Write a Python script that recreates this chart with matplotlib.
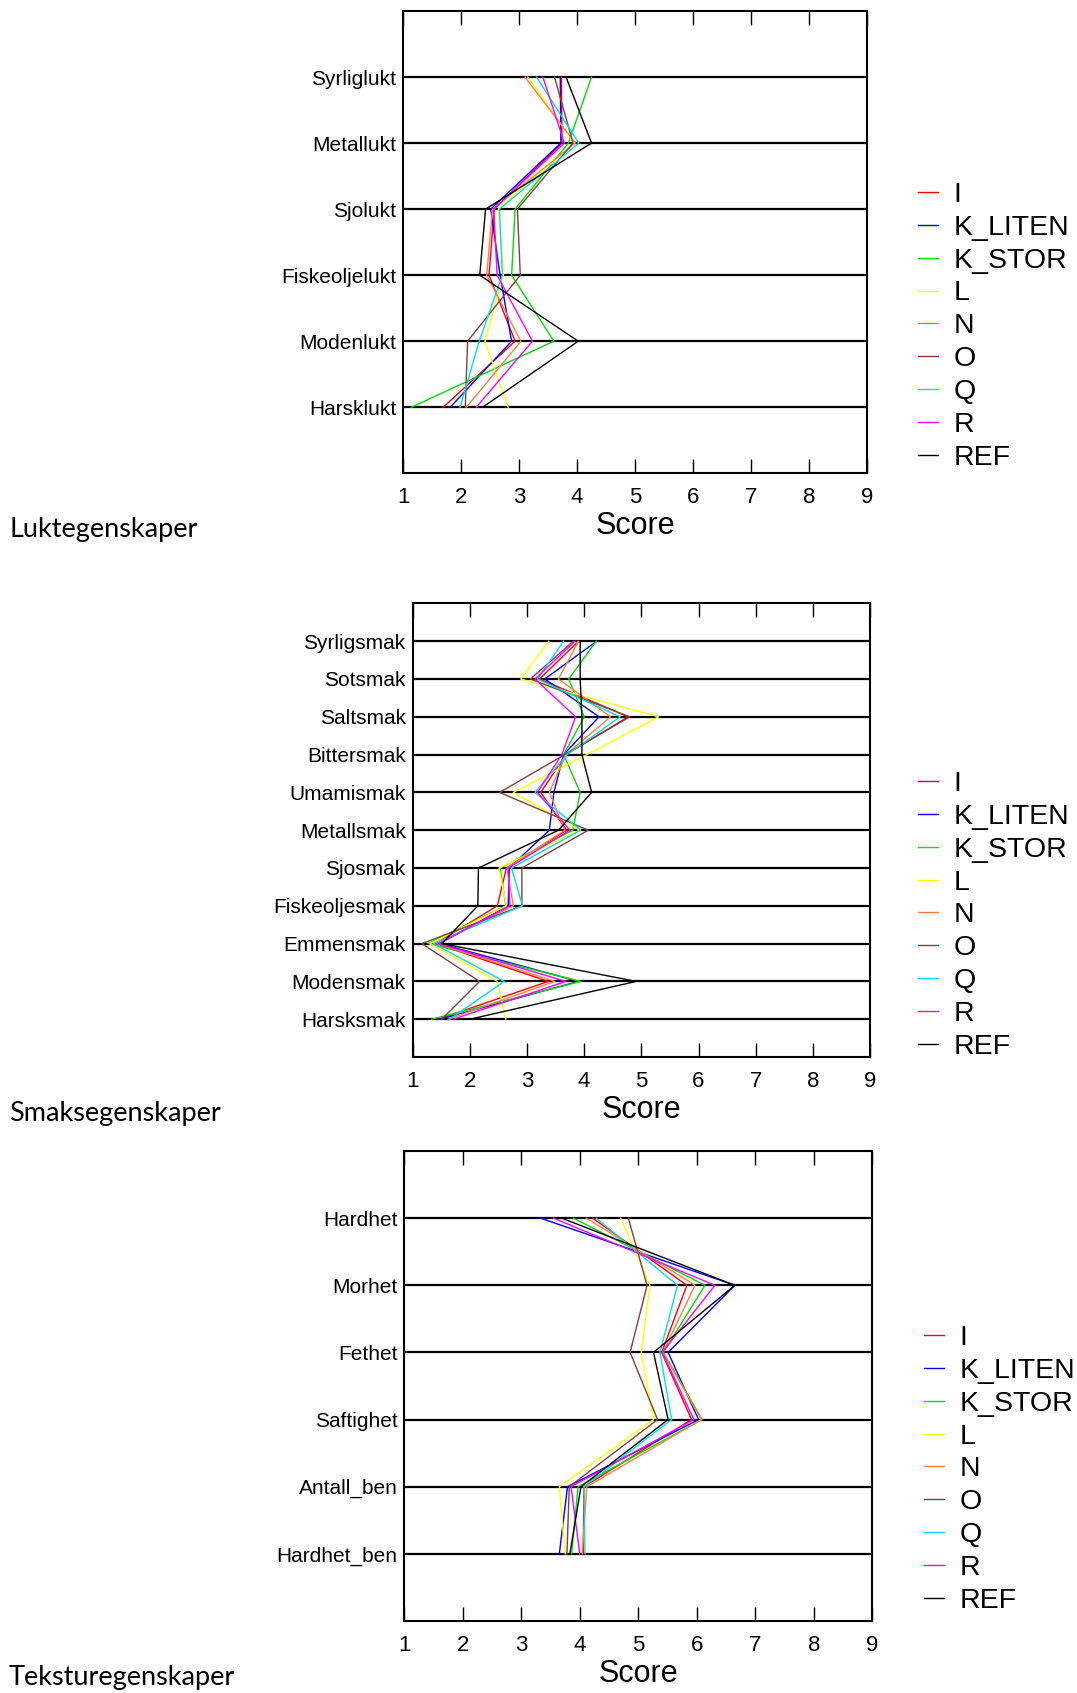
import matplotlib
matplotlib.use('Agg')
import matplotlib.pyplot as plt

products = ['I', 'K_LITEN', 'K_STOR', 'L', 'N', 'O', 'Q', 'R', 'REF']
colors = ['#ff0000', '#0000ff', '#00dd00', '#ffff00', '#ff8040',
          '#804040', '#00e0e0', '#ff00ff', '#000000']

lukt_cats = ['Syrliglukt', 'Metallukt', 'Sjolukt', 'Fiskeoljelukt',
             'Modenlukt', 'Harsklukt']
lukt_values = [
    [3.73, 3.74, 2.57, 2.48, 2.93, 1.69],   # I
    [3.71, 3.72, 2.51, 2.67, 2.87, 1.81],   # K_LITEN
    [4.25, 3.85, 2.93, 2.87, 3.60, 1.14],   # K_STOR
    [3.15, 3.95, 2.64, 2.73, 2.41, 2.81],   # L
    [3.10, 3.97, 2.54, 2.44, 3.03, 2.09],   # N
    [3.61, 3.93, 2.97, 3.02, 2.11, 2.07],   # O
    [3.30, 4.03, 2.66, 2.71, 2.31, 1.98],   # Q
    [3.41, 3.78, 2.56, 2.62, 3.23, 2.26],   # R
    [3.81, 4.25, 2.42, 2.32, 4.02, 2.37],   # REF
]

smak_cats = ['Syrligsmak', 'Sotsmak', 'Saltsmak', 'Bittersmak', 'Umamismak',
             'Metallsmak', 'Sjosmak', 'Fiskeoljesmak', 'Emmensmak',
             'Modensmak', 'Harsksmak']
smak_values = [
    [3.90, 3.22, 4.77, 3.68, 3.24, 3.69, 2.64, 2.48, 1.40, 3.37, 1.45],
    [4.22, 3.31, 4.26, 3.64, 3.47, 3.39, 2.69, 2.67, 1.47, 3.90, 1.48],
    [4.21, 3.73, 4.00, 3.64, 3.93, 3.80, 2.53, 2.63, 1.27, 3.94, 1.33],
    [3.38, 2.89, 5.30, 4.05, 2.76, 3.92, 2.51, 2.64, 1.30, 2.48, 2.63],
    [3.90, 3.55, 4.46, 3.68, 3.39, 3.66, 2.65, 2.76, 1.43, 3.49, 1.62],
    [3.81, 3.06, 4.80, 3.66, 2.52, 4.07, 2.91, 2.91, 1.16, 2.17, 1.51],
    [3.64, 3.18, 4.63, 3.70, 3.14, 3.94, 2.73, 2.92, 1.36, 2.60, 1.65],
    [3.84, 3.14, 3.85, 3.61, 3.18, 3.75, 2.67, 2.70, 1.45, 3.68, 1.71],
    [3.93, 3.93, 3.96, 3.96, 4.13, 3.55, 2.15, 2.14, 1.51, 4.91, 2.00],
]

tekstur_cats = ['Hardhet', 'Morhet', 'Fethet', 'Saftighet', 'Antall_ben',
                'Hardhet_ben']
tekstur_values = [
    [4.22, 5.83, 5.40, 5.91, 4.07, 4.06],
    [3.33, 6.65, 5.51, 6.03, 3.79, 3.65],
    [3.89, 6.14, 5.43, 6.09, 3.97, 3.86],
    [4.70, 5.20, 5.05, 5.26, 3.65, 3.75],
    [4.11, 5.97, 5.42, 6.08, 4.12, 4.04],
    [4.83, 5.15, 4.86, 5.33, 3.82, 3.78],
    [4.28, 5.67, 5.37, 5.57, 4.07, 4.09],
    [3.55, 6.31, 5.41, 5.95, 3.85, 4.00],
    [3.69, 6.65, 5.26, 5.51, 4.02, 3.83],
]

titles = ['Luktegenskaper', 'Smaksegenskaper', 'Teksturegenskaper']

plt.rcParams['font.family'] = ['Liberation Sans', 'DejaVu Sans']

W, H = 1077, 1693
fig = plt.figure(figsize=(W / 100, H / 100), dpi=100)

# axes boxes in pixels: left, top, right, bottom
boxes = [(403.3, 11, 866.7, 473.3),
         (412.7, 603.4, 870, 1057),
         (404.3, 1151, 872.3, 1621)]
legend_pos = [(918, 182), (918, 771), (924, 1325)]
title_y = [529, 1114, 1678]

panels = [(lukt_cats, lukt_values), (smak_cats, smak_values),
          (tekstur_cats, tekstur_values)]

for k, (cats, vals) in enumerate(panels):
    l, t, r, b = boxes[k]
    ax = fig.add_axes([l / W, 1 - b / H, (r - l) / W, (b - t) / H])
    ypos = list(range(len(cats)))
    for name, col, row in zip(products, colors, vals):
        ax.plot(row, ypos, color=col, lw=1.0, label=name, zorder=3)
    ax.set_xlim(1, 9)
    ax.set_ylim(len(cats), -1)
    ax.set_xticks(range(1, 10))
    ax.set_yticks(ypos)
    ax.set_yticklabels(cats, fontsize=15)
    ax.tick_params(axis='y', length=0, pad=5)
    ax.tick_params(axis='x', direction='in', length=10, width=1,
                   top=True, labelsize=16, pad=10)
    for s in ax.spines.values():
        s.set_linewidth(1.5)
    ax.grid(axis='y', color='black', lw=1.6)
    ax.set_axisbelow(True)
    ax.set_xlabel('Score', fontsize=22, labelpad=2)
    lx, ly = legend_pos[k]
    fig.legend(*ax.get_legend_handles_labels(), loc='upper left',
               bbox_to_anchor=(lx / W, 1 - ly / H), frameon=False,
               fontsize=20.5, handlelength=0.7, handletextpad=0.55,
               labelspacing=0.24, borderaxespad=0, borderpad=0)
    fig.text(9 / W, 1 - title_y[k] / H, titles[k], fontsize=19.5,
             family='Lato', va='center', ha='left')

fig.savefig('out.png', dpi=100)
